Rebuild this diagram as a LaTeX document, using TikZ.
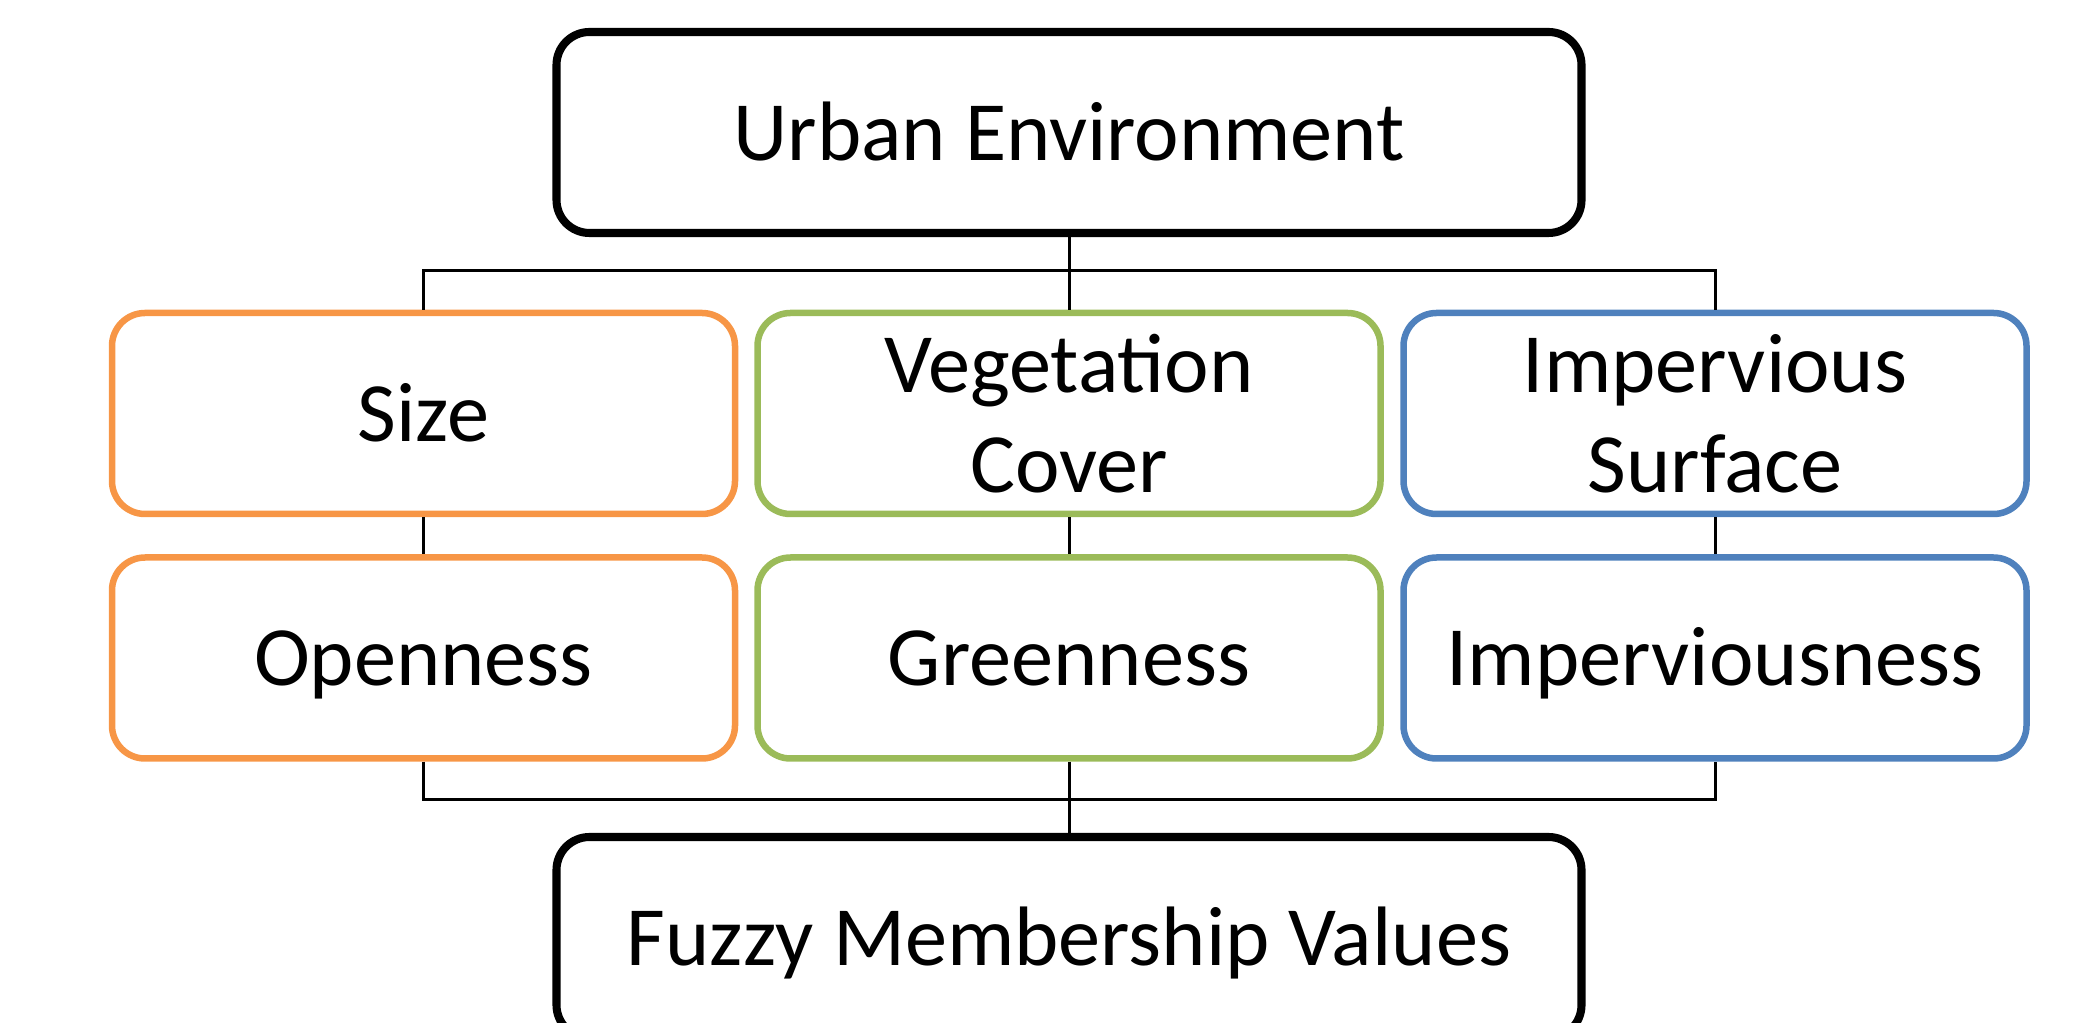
\documentclass[tikz,border=0pt]{standalone}
\usepackage{fontspec}
\setmainfont{Carlito}
\usepackage{tikz}
\usetikzlibrary{calc}
\definecolor{sizeorange}{HTML}{F79646}
\definecolor{veggreen}{HTML}{9BBB59}
\definecolor{impblue}{HTML}{4F81BD}
\tikzset{
  box/.style={draw, rounded corners=0.33cm, align=center, minimum width=6.23cm,
    minimum height=2.01cm, line width=1.85pt, inner sep=0pt,
    font=\fontsize{24}{28.5}\selectfont},
  oneline/.style={text height=15.8pt, text depth=0pt},
  mainbox/.style={box, oneline, draw=black, minimum width=10.25cm, line width=2.3pt},
  link/.style={line width=0.85pt, black}
}
\begin{document}
\begin{tikzpicture}
    \useasboundingbox (0,0) rectangle (20.73,-10.23);% page size of the reference
    \node[mainbox] (urban) at (10.69,-1.325) {Urban Environment};
    % first row: the three inputs
    \node[box, oneline, draw=sizeorange] (size) at (4.235,-4.135) {Size};
    \node[box, draw=veggreen] (veg) at (10.69,-4.135) {Vegetation\\Cover};
    \node[box, draw=impblue] (imp) at (17.15,-4.135) {Impervious\\Surface};
    % second row: the derived indices
    \node[box, oneline, draw=sizeorange] (open) at (4.235,-6.58) {Openness};
    \node[box, oneline, draw=veggreen] (green) at (10.69,-6.58) {Greenness};
    \node[box, oneline, draw=impblue] (impness) at (17.15,-6.58) {Imperviousness};
    \node[mainbox] (fuzzy) at (10.69,-9.375) {Fuzzy Membership Values};
    % connectors
    \draw[link] (urban.south) -- (veg.north);
    \draw[link] (size.north) -- ++(0,0.39) -| (imp.north);
    \foreach \a/\b in {size/open, veg/green, imp/impness}
        \draw[link] (\a.south) -- (\b.north);
    \draw[link] (open.south) -- ++(0,-0.38) -| (impness.south);
    \draw[link] (green.south) -- (fuzzy.north);
\end{tikzpicture}
\end{document}
